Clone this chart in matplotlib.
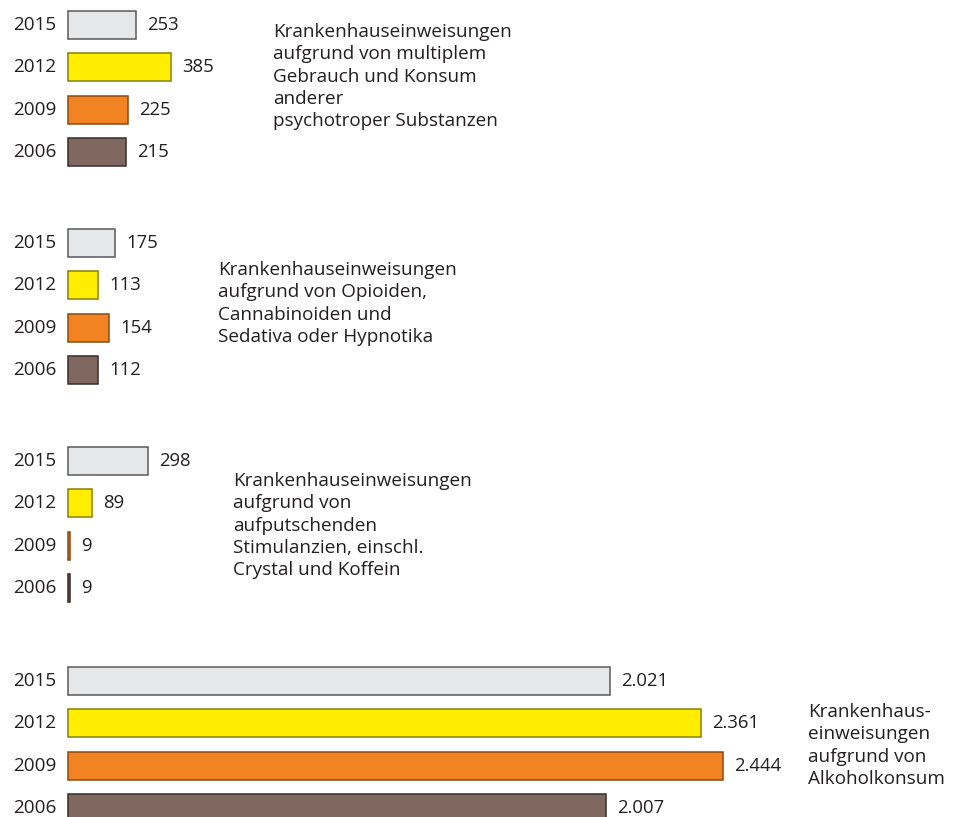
import matplotlib
matplotlib.use("Agg")
import matplotlib.pyplot as plt

plt.rcParams['font.family'] = ['Open Sans', 'DejaVu Sans']

years = ['2015', '2012', '2009', '2006']
multi = [253, 385, 225, 215]
opioide = [175, 113, 154, 112]
stimulanzien = [298, 89, 9, 9]
alkohol = [2021, 2361, 2444, 2007]
groups = [multi, opioide, stimulanzien, alkohol]

titles = [
    'Krankenhauseinweisungen\naufgrund von multiplem\nGebrauch und Konsum\nanderer\npsychotroper Substanzen',
    'Krankenhauseinweisungen\naufgrund von Opioiden,\nCannabinoiden und\nSedativa oder Hypnotika',
    'Krankenhauseinweisungen\naufgrund von\naufputschenden\nStimulanzien, einschl.\nCrystal und Koffein',
    'Krankenhaus-\neinweisungen\naufgrund von\nAlkoholkonsum',
]

face = ['#e6e7e8', '#ffed00', '#f28322', '#806860']
edge = ['#5a5a5a', '#8a8000', '#8a4a12', '#3a2c28']
txt = '#231f20'

W, H = 962, 817
fig = plt.figure(figsize=(W / 100, H / 100), dpi=100)
x0 = 68
px_per_unit = 0.268
ax = fig.add_axes([x0 / W, 0, 1 - x0 / W, 1])
ax.set_xlim(0, (W - x0) / px_per_unit)
ax.set_ylim(H, 0)
ax.axis('off')

group_top = [25, 243, 461, 681]
step = 42.3
bar_h = 28

for g, vals in enumerate(groups):
    ys = [group_top[g] + i * step for i in range(4)]
    ax.barh(ys, vals, height=bar_h, left=0, color=face, edgecolor=edge,
            linewidth=1.1, clip_on=False)
    for y, v, yr in zip(ys, vals, years):
        lab = f'{v:,}'.replace(',', '.')
        ax.annotate(lab, (v, y), xytext=(8, 0), textcoords='offset points',
                    va='center', ha='left', fontsize=13.3, color=txt)
        fig.text(56 / W, 1 - y / H, yr, ha='right', va='center',
                 fontsize=13.6, color=txt)

title_pos = [(273, 23), (218, 261), (233, 472), (808, 703)]
for (tx, ty), t in zip(title_pos, titles):
    fig.text(tx / W, 1 - ty / H, t, ha='left', va='top', fontsize=13.6,
             color=txt, linespacing=1.31)

fig.savefig('out.png', dpi=100)
